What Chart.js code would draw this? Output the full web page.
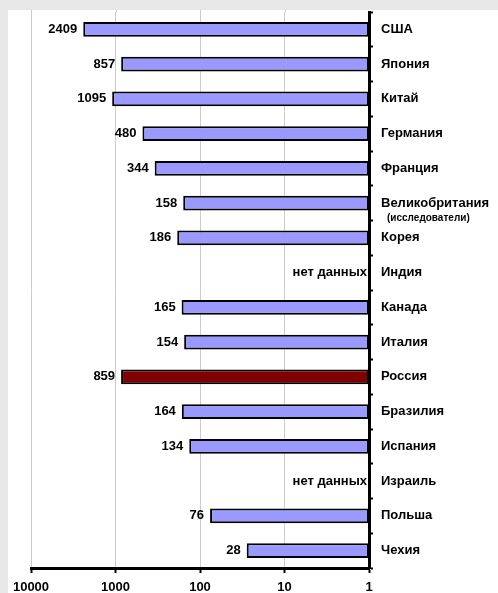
<!DOCTYPE html>
<html>
<head>
<meta charset="utf-8">
<script src="https://cdn.jsdelivr.net/npm/chart.js@4"></script>
<style>
  body { margin: 0; background: #e8e8e8; }
  canvas { display: block; }
</style>
</head>
<body>
<canvas id="chart" width="498" height="593"></canvas>
<script>
const countries = ["США", "Япония", "Китай", "Германия", "Франция", "Великобритания", "Корея", "Индия",
  "Канада", "Италия", "Россия", "Бразилия", "Испания", "Израиль", "Польша", "Чехия"];
const values = [2409, 857, 1095, 480, 344, 158, 186, null, 165, 154, 859, 164, 134, null, 76, 28];
const xTicks = [10000, 1000, 100, 10, 1];
const noDataText = "нет данных";
const subLabels = { "Великобритания": "(исследователи)" };

const FONT = "'Liberation Sans', Arial, sans-serif";

const colors = countries.map(c => c === "Россия" ? "#800000" : "#9999ff");

const decor = {
  id: "decor",
  beforeDraw(chart) {
    const ctx = chart.ctx;
    ctx.save();
    ctx.fillStyle = "#e8e8e8";
    ctx.fillRect(0, 0, chart.width, chart.height);
    ctx.fillStyle = "#ffffff";
    ctx.fillRect(8, 10, chart.width - 8, chart.height - 10);
    // grid lines run up to the panel edge
    const xScale = chart.scales.x;
    ctx.strokeStyle = "#cccccc";
    ctx.lineWidth = 1;
    xTicks.slice(0, -1).forEach(v => {
      const x = Math.round(xScale.getPixelForValue(v)) + 0.5;
      ctx.beginPath();
      ctx.moveTo(x, 10);
      ctx.lineTo(x, chart.chartArea.top);
      ctx.stroke();
    });
    ctx.restore();
  },
  afterDatasetsDraw(chart) {
    const ctx = chart.ctx;
    const meta = chart.getDatasetMeta(0);
    const xScale = chart.scales.x;
    const yScale = chart.scales.y;
    ctx.save();
    ctx.fillStyle = "#000";
    ctx.font = "bold 13px " + FONT;
    ctx.textBaseline = "middle";
    ctx.textAlign = "right";
    values.forEach((v, i) => {
      const y = yScale.getPixelForValue(i);
      if (v === null) {
        ctx.fillText(noDataText, xScale.getPixelForValue(1) - 2, y);
      } else {
        const bar = meta.data[i];
        ctx.fillText(String(v), Math.min(bar.x, bar.base) - 6, y);
      }
    });
    ctx.textAlign = "left";
    ctx.font = "bold 10px " + FONT;
    countries.forEach((c, i) => {
      if (subLabels[c]) {
        ctx.fillText(subLabels[c], 387, yScale.getPixelForValue(i) + 15);
      }
    });
    ctx.restore();
  }
};

new Chart(document.getElementById("chart").getContext("2d"), {
  type: "bar",
  data: {
    labels: countries,
    datasets: [{
      data: values,
      backgroundColor: colors,
      borderColor: "#000",
      borderWidth: 2,
      borderSkipped: false,
      categoryPercentage: 1,
      barPercentage: 0.42
    }]
  },
  options: {
    indexAxis: "y",
    responsive: false,
    animation: false,
    layout: { padding: { left: 31, top: 12, right: 0, bottom: 0 } },
    plugins: {
      legend: { display: false },
      tooltip: { enabled: false }
    },
    scales: {
      x: {
        type: "logarithmic",
        reverse: true,
        min: 1,
        max: 10000,
        afterBuildTicks(scale) {
          scale.ticks = xTicks.map(v => ({ value: v }));
        },
        afterFit(scale) {
          scale.height = 25;
          scale.paddingLeft = 0;
          scale.paddingRight = 0;
        },
        grid: {
          color: "#cccccc",
          lineWidth: 1,
          tickColor: "#000",
          tickLength: 5,
          tickWidth: 2
        },
        border: { color: "#000", width: 3 },
        ticks: {
          color: "#000",
          font: { family: FONT, size: 13, weight: "bold" },
          padding: 7,
          maxRotation: 0,
          callback: v => String(v)
        }
      },
      y: {
        position: "right",
        afterFit(scale) {
          scale.width = 129;
          scale.paddingTop = 0;
          scale.paddingBottom = 0;
        },
        grid: {
          drawOnChartArea: false,
          tickColor: "#000",
          tickLength: 4,
          tickWidth: 2
        },
        border: { color: "#000", width: 3 },
        ticks: {
          color: "#000",
          font: { family: FONT, size: 13, weight: "bold" },
          padding: 8,
          crossAlign: "near"
        }
      }
    }
  },
  plugins: [decor]
});
</script>
</body>
</html>
